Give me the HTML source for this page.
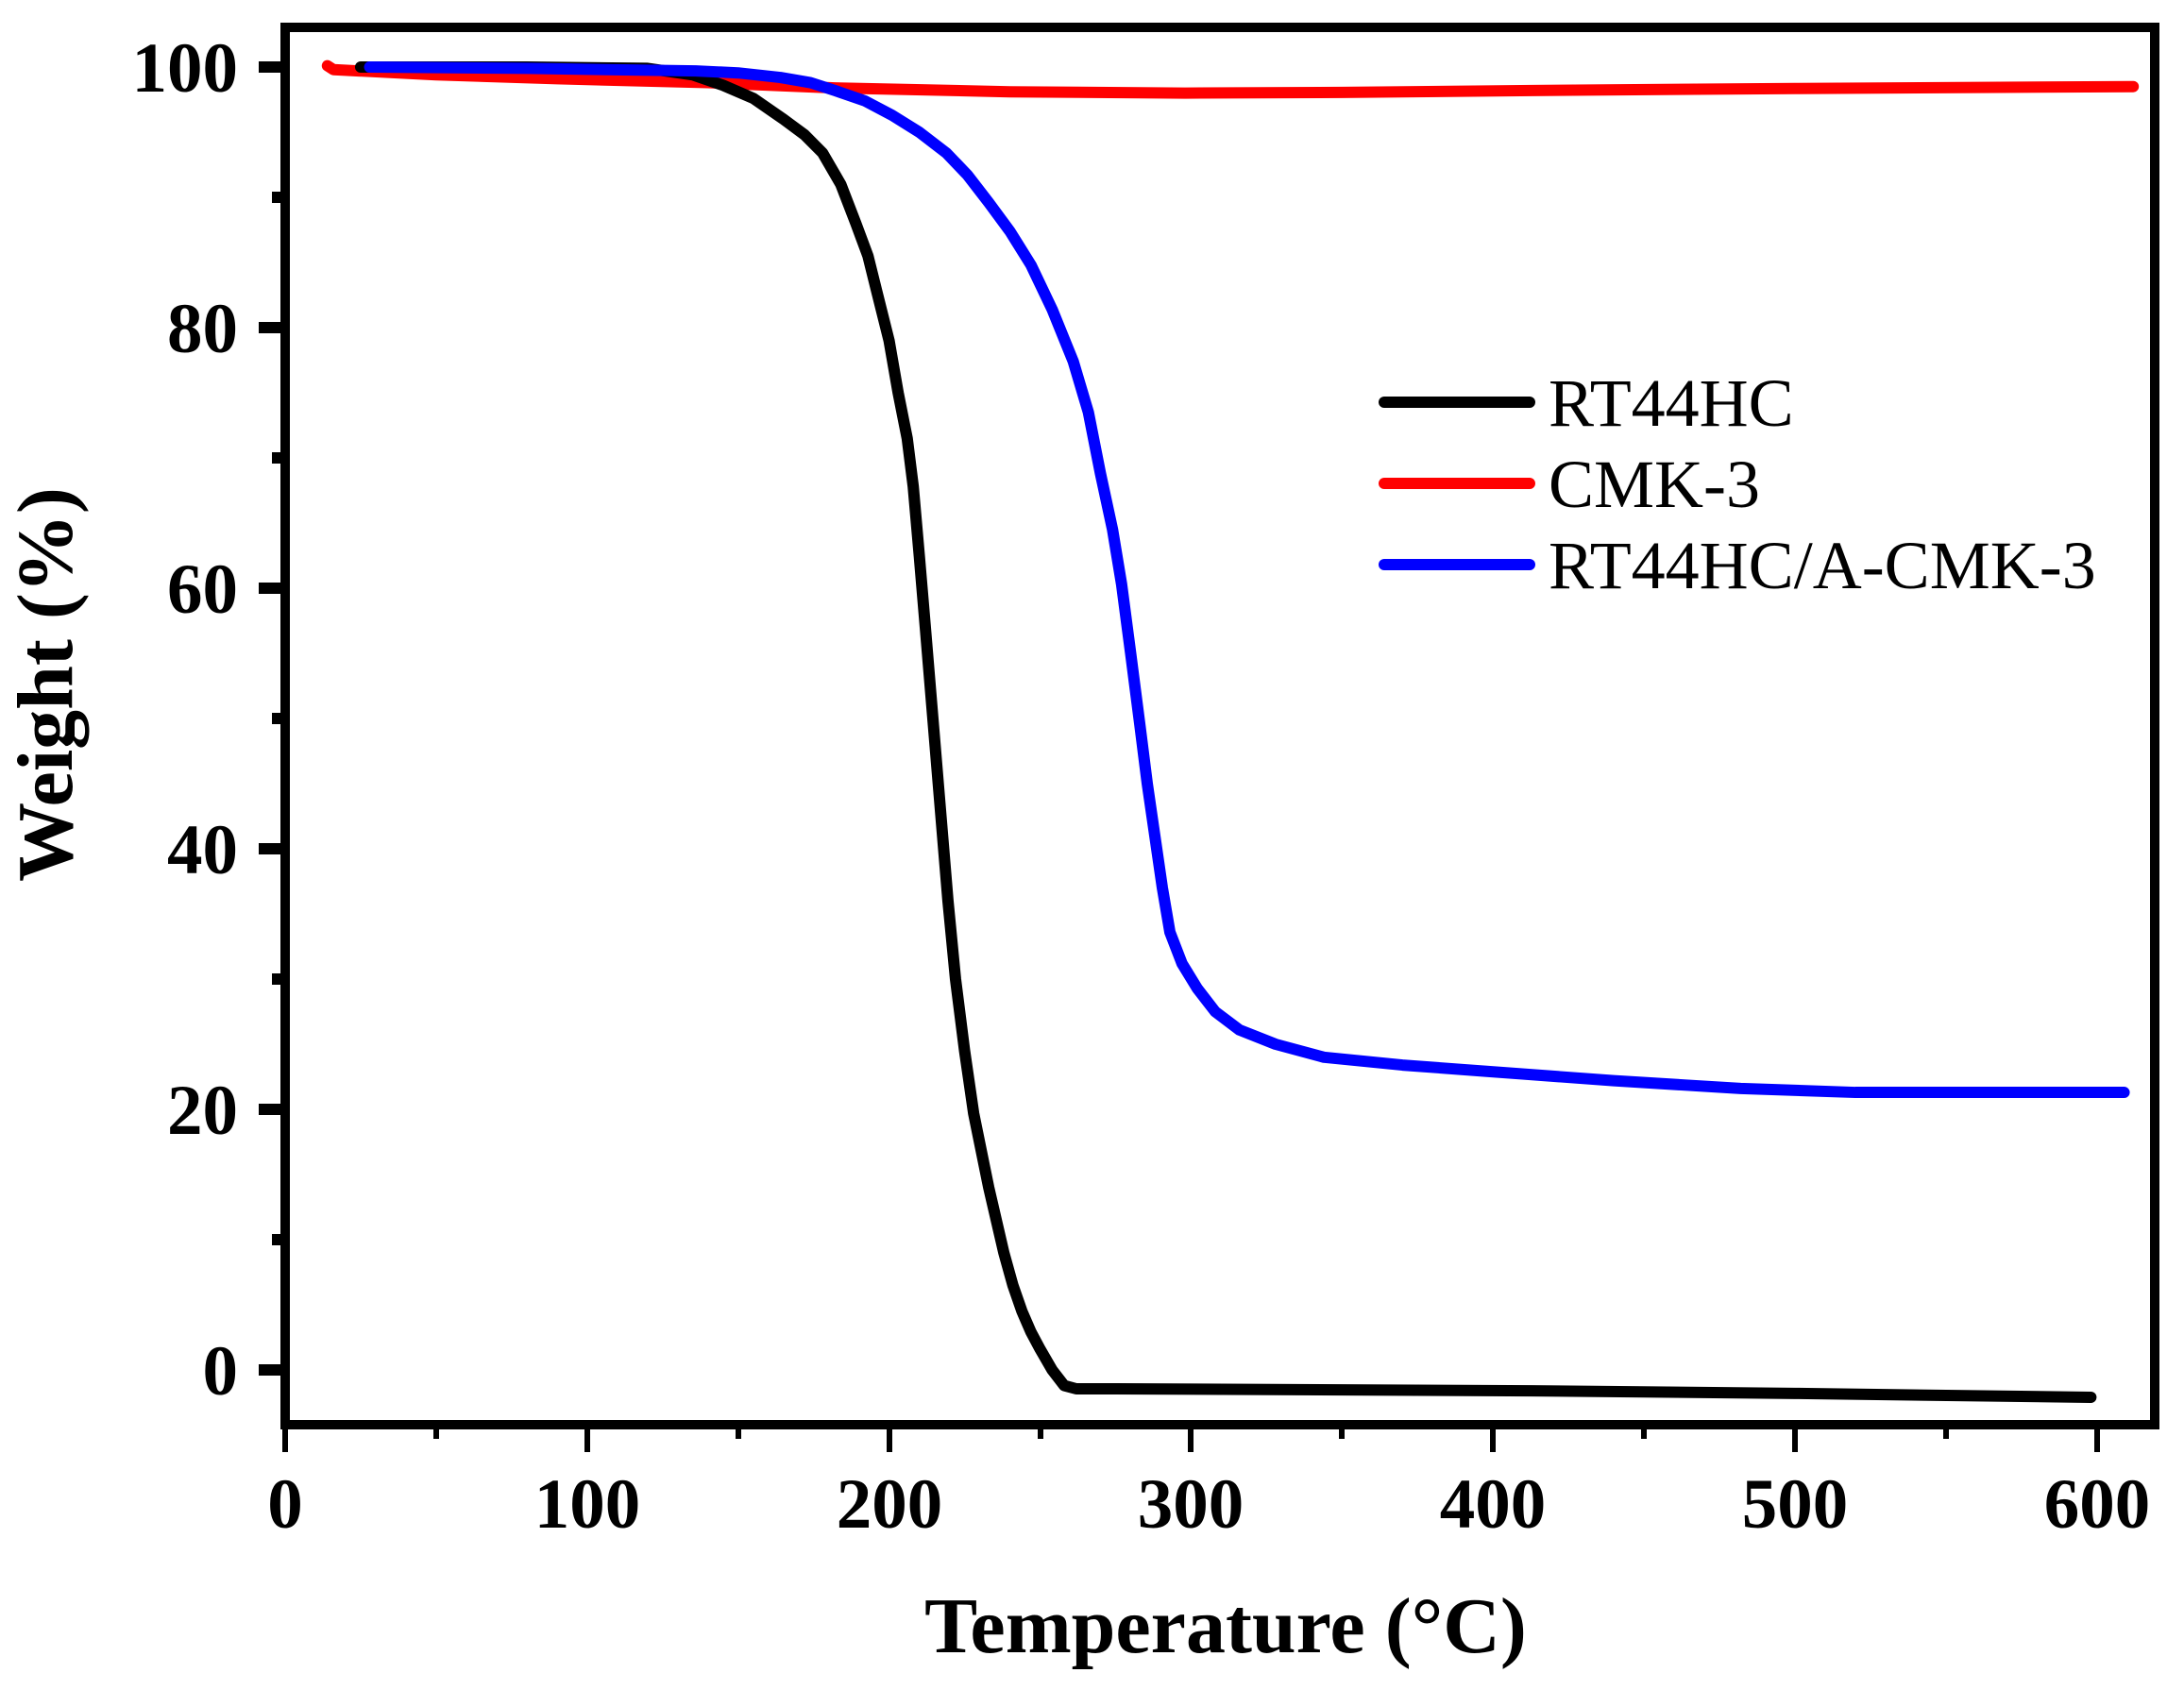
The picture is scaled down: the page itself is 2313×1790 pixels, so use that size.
<!DOCTYPE html>
<html><head><style>html,body{margin:0;padding:0;background:#fff}svg{display:block}</style></head>
<body>
<svg width="2313" height="1790" viewBox="0 0 2313 1790" xmlns="http://www.w3.org/2000/svg" font-family="Liberation Serif, serif">
<rect width="2313" height="1790" fill="#fff"/>
<g transform="translate(302,1451) scale(3.198,-13.8)" fill="none" stroke-linejoin="round" stroke-linecap="round">
<polyline vector-effect="non-scaling-stroke" stroke="#f00" stroke-width="12" points="14,100.1 16,99.8 50,99.4 90,99.1 140,98.8 182,98.4 240,98.1 298,98 350,98.05 413,98.2 500,98.35 612,98.5"/>
<polyline vector-effect="non-scaling-stroke" stroke="#000" stroke-width="12" points="25,100 80,100 120,99.9 135,99.4 145,98.6 155,97.6 165,96 172,94.8 178,93.4 184,91 189,88 193,85.5 196,82.7 200,79 203,75 206,71.5 208,67.8 210,62.5 212,57 214.5,50 217,43 219.5,36 222,30 225,24.5 228,19.7 233,14 238,9 241,6.5 244,4.5 247,2.9 250,1.6 254,0 258,-1.2 262,-1.45 275,-1.45 413,-1.6 500,-1.8 598,-2.1"/>
<polyline vector-effect="non-scaling-stroke" stroke="#00f" stroke-width="12" points="28,100 80,99.9 136,99.7 150,99.55 164,99.2 174,98.8 182,98.2 192,97.4 201,96.3 210,95 219,93.4 226,91.7 233,89.6 240,87.4 247,84.8 254,81.4 261,77.4 266,73.5 270,68.8 274,64.5 277,60.3 280,55 283,49.6 285.5,45 288,41 290.5,37 293,33.6 297,31.2 302,29.3 308,27.5 316,26.1 328,25 344,24 370,23.4 399,22.9 440,22.2 482,21.6 520,21.3 609,21.3"/>
</g>
<rect x="302" y="29" width="1980" height="1480" fill="none" stroke="#000" stroke-width="10"/>
<g stroke="#000" stroke-width="6">
<line x1="302" y1="1509" x2="302" y2="1538"/><line x1="622" y1="1509" x2="622" y2="1538"/><line x1="942" y1="1509" x2="942" y2="1538"/><line x1="1261" y1="1509" x2="1261" y2="1538"/><line x1="1581" y1="1509" x2="1581" y2="1538"/><line x1="1901" y1="1509" x2="1901" y2="1538"/><line x1="2221" y1="1509" x2="2221" y2="1538"/>
<line x1="462" y1="1509" x2="462" y2="1524"/><line x1="782" y1="1509" x2="782" y2="1524"/><line x1="1102" y1="1509" x2="1102" y2="1524"/><line x1="1421" y1="1509" x2="1421" y2="1524"/><line x1="1741" y1="1509" x2="1741" y2="1524"/><line x1="2061" y1="1509" x2="2061" y2="1524"/>
</g>
<g stroke="#000" stroke-width="12">
<line x1="274" y1="71" x2="302" y2="71"/><line x1="274" y1="347" x2="302" y2="347"/><line x1="274" y1="623" x2="302" y2="623"/><line x1="274" y1="899" x2="302" y2="899"/><line x1="274" y1="1175" x2="302" y2="1175"/><line x1="274" y1="1451" x2="302" y2="1451"/>
<line x1="288" y1="209" x2="302" y2="209"/><line x1="288" y1="485" x2="302" y2="485"/><line x1="288" y1="761" x2="302" y2="761"/><line x1="288" y1="1037" x2="302" y2="1037"/><line x1="288" y1="1313" x2="302" y2="1313"/>
</g>
<g font-size="75" font-weight="bold" text-anchor="end">
<text x="252" y="97">100</text><text x="252" y="373">80</text><text x="252" y="649">60</text><text x="252" y="925">40</text><text x="252" y="1201">20</text><text x="252" y="1477">0</text>
</g>
<g font-size="75" font-weight="bold" text-anchor="middle">
<text x="302" y="1618">0</text><text x="622" y="1618">100</text><text x="942" y="1618">200</text><text x="1261" y="1618">300</text><text x="1581" y="1618">400</text><text x="1901" y="1618">500</text><text x="2221" y="1618">600</text>
</g>
<text x="1298" y="1750" font-size="84" font-weight="bold" text-anchor="middle">Temperature (°C)</text>
<text transform="translate(76,725) rotate(-90)" font-size="84" font-weight="bold" text-anchor="middle">Weight (%)</text>
<g stroke-width="12" stroke-linecap="round">
<line x1="1466" y1="426" x2="1620" y2="426" stroke="#000"/>
<line x1="1466" y1="512" x2="1620" y2="512" stroke="#f00"/>
<line x1="1466" y1="598" x2="1620" y2="598" stroke="#00f"/>
</g>
<g font-size="72">
<text x="1640" y="451">RT44HC</text>
<text x="1640" y="537">CMK-3</text>
<text x="1640" y="623">RT44HC/A-CMK-3</text>
</g>
</svg>
</body></html>
